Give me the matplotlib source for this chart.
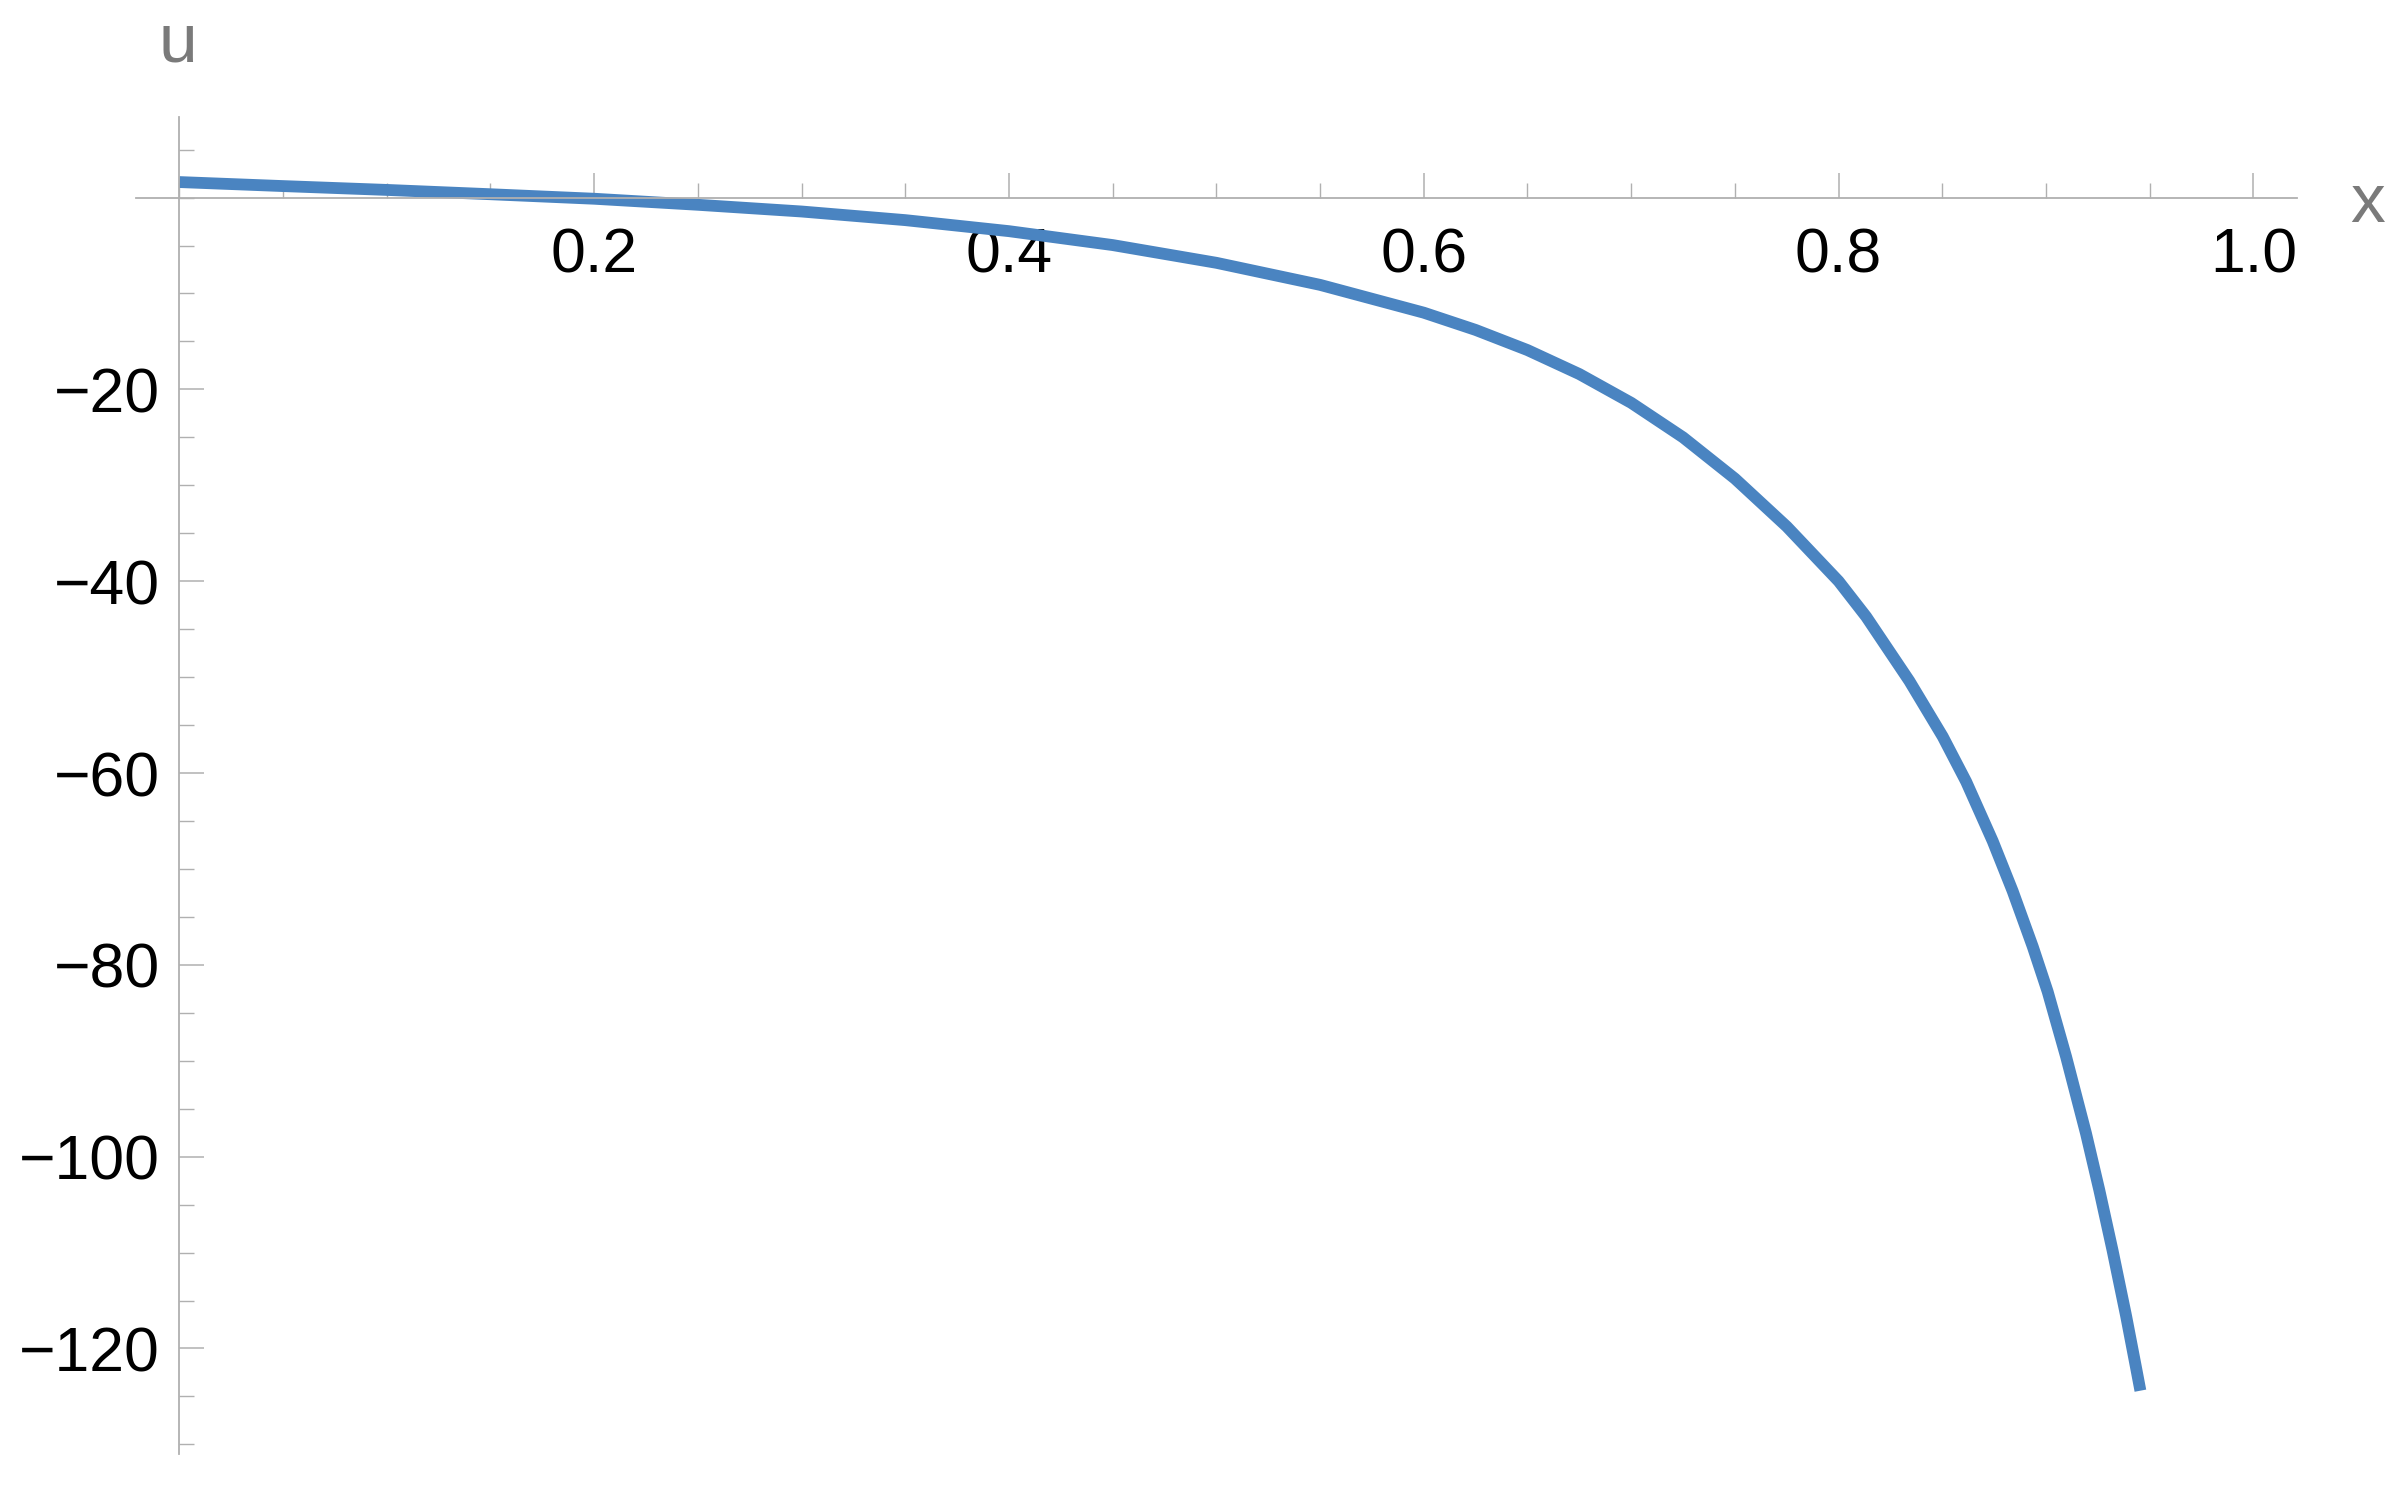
import matplotlib.pyplot as plt
from matplotlib.ticker import MultipleLocator

# values
xVals = [0.0, 0.05, 0.1, 0.15, 0.2, 0.25, 0.3, 0.35, 0.4, 0.45, 0.5, 0.55,
         0.6, 0.625, 0.65, 0.675, 0.7, 0.725, 0.75, 0.775, 0.8, 0.8133,
         0.8341, 0.8502, 0.8615, 0.8743, 0.8839, 0.8936, 0.9008, 0.9097, 0.9193,
         0.9257, 0.9321, 0.9386, 0.9434, 0.9455]
uVals = [1.62, 1.2, 0.8, 0.35, -0.12, -0.75, -1.45, -2.35, -3.5, -4.95, -6.8, -9.1,
         -12.0, -13.8, -15.9, -18.4, -21.4, -25.0, -29.3, -34.3, -40.0, -43.7,
         -50.4, -56.2, -60.9, -67.1, -72.3, -78.1, -82.8, -89.6, -97.6,
         -103.5, -109.8, -116.6, -122.0, -124.4]

xTicks = [0.2, 0.4, 0.6, 0.8, 1.0]
xTickLabels = ['0.2', '0.4', '0.6', '0.8', '1.0']
yTicks = [-120, -100, -80, -60, -40, -20]
yTickLabels = ['\u2212120', '\u2212100', '\u221280', '\u221260', '\u221240', '\u221220']

plt.rcParams['font.family'] = ['Liberation Sans', 'DejaVu Sans']

axisColor = '#b0b0b0'
lineColor = '#4a84c1'

fig = plt.figure(figsize=(24.06, 15.10), dpi=100)
ax = fig.add_axes([0.0564, 0.0371, 0.8983, 0.8854])

ax.plot(xVals, uVals, color=lineColor, linewidth=8.5,
        solid_capstyle='butt', solid_joinstyle='round')

ax.set_xlim(-0.021, 1.021)
ax.set_ylim(-131, 8.4)

for side in ['top', 'right']:
    ax.spines[side].set_visible(False)
ax.spines['left'].set_position(('data', 0))
ax.spines['bottom'].set_position(('data', 0))
for side in ['left', 'bottom']:
    ax.spines[side].set_color(axisColor)
    ax.spines[side].set_linewidth(1.3)

ax.set_xticks(xTicks)
ax.set_xticklabels(xTickLabels)
ax.set_yticks(yTicks)
ax.set_yticklabels(yTickLabels)
ax.xaxis.set_minor_locator(MultipleLocator(0.05))
ax.yaxis.set_minor_locator(MultipleLocator(5))

ax.tick_params(which='major', direction='in', length=18, width=1.1,
               color=axisColor, labelsize=45, labelcolor='black')
ax.tick_params(which='minor', direction='in', length=10.5, width=1.0,
               color=axisColor)
ax.tick_params(axis='x', which='major', pad=21)
ax.tick_params(axis='y', which='major', pad=14)

fig.text(0.074, 0.9715, 'u', fontsize=50, color='#7a7a7a', ha='center', va='center')
fig.text(0.984, 0.865, 'x', fontsize=50, color='#7a7a7a', ha='center', va='center')

fig.savefig('out.png', dpi=100, facecolor='white')
